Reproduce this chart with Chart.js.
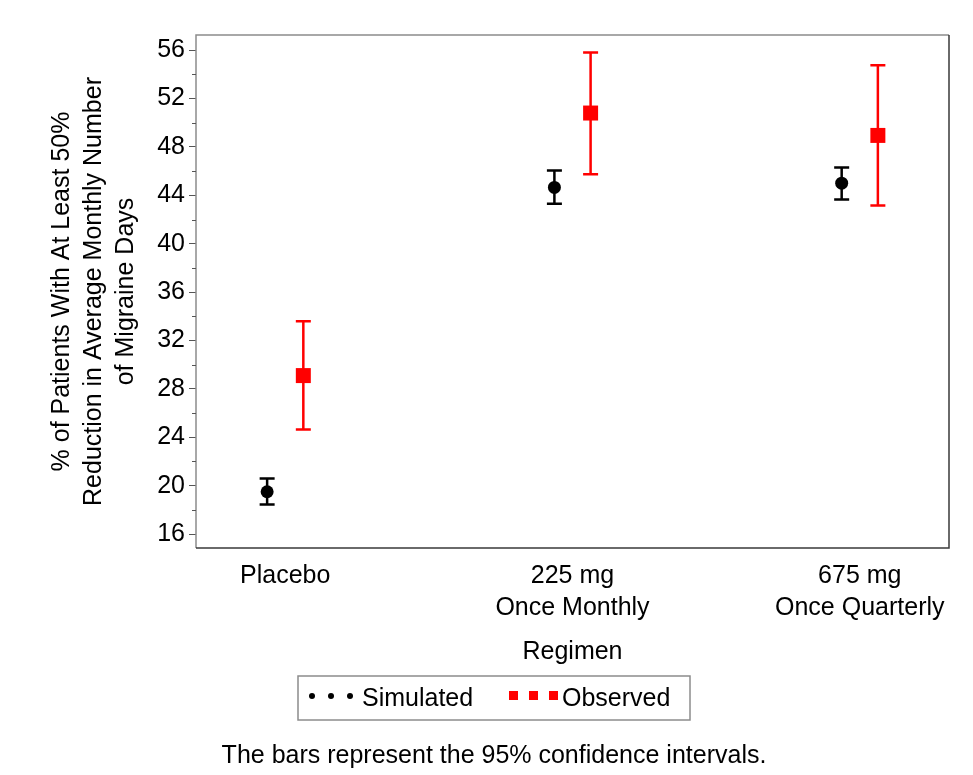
<!DOCTYPE html>
<html>
<head>
<meta charset="utf-8">
<script src="https://cdn.jsdelivr.net/npm/chart.js@4/dist/chart.umd.min.js"></script>
<style>
  html, body { margin: 0; padding: 0; background: #fff; }
  #wrap { position: relative; width: 973px; height: 775px; }
</style>
</head>
<body>
<div id="wrap"><canvas id="regimenChart" width="973" height="775"></canvas></div>
<script>
// categories and values
const categories = ["Placebo", ["225 mg", "Once Monthly"], ["675 mg", "Once Quarterly"]];
const seriesNames = ["Simulated", "Observed"];
const simulated = [19.5, 44.65, 45.0];
const simulatedLow = [18.45, 43.3, 43.65];
const simulatedHigh = [20.6, 46.05, 46.3];
const observed = [29.1, 50.8, 48.95];
const observedLow = [24.65, 45.75, 43.15];
const observedHigh = [33.6, 55.8, 54.75];
const yTicks = [16, 20, 24, 28, 32, 36, 40, 44, 48, 52, 56];
const footnote = "The bars represent the 95% confidence intervals.";

const FONT = "'Liberation Sans', Arial, sans-serif";
const dodge = 0.063; // side-by-side shift within a category

const toPoints = (vals, lo, hi, shift) =>
  vals.map((v, i) => ({ x: i + 1 + shift, y: v, lo: lo[i], hi: hi[i] }));

// error bars (drawn under the markers)
const errorBars = {
  id: "errorBars",
  beforeDatasetsDraw(chart) {
    const { ctx, scales: { x, y } } = chart;
    chart.data.datasets.forEach((ds) => {
      ctx.save();
      ctx.strokeStyle = ds.borderColor;
      ctx.lineWidth = 2.5;
      ds.data.forEach((p) => {
        const px = x.getPixelForValue(p.x);
        const top = y.getPixelForValue(p.hi);
        const bot = y.getPixelForValue(p.lo);
        ctx.beginPath();
        ctx.moveTo(px, top); ctx.lineTo(px, bot);
        ctx.moveTo(px - 7.5, top); ctx.lineTo(px + 7.5, top);
        ctx.moveTo(px - 7.5, bot); ctx.lineTo(px + 7.5, bot);
        ctx.stroke();
      });
      ctx.restore();
    });
  }
};

// frame, minor ticks, legend box and footnote
const extras = {
  id: "extras",
  afterDraw(chart) {
    const { ctx, chartArea: a, scales: { y } } = chart;
    ctx.save();
    ctx.lineWidth = 1.5;
    ctx.strokeStyle = "#8c8c8c";
    ctx.beginPath();
    ctx.moveTo(a.left, a.bottom); ctx.lineTo(a.left, a.top); ctx.lineTo(a.right, a.top);
    ctx.stroke();
    ctx.strokeStyle = "#3a3a3a";
    ctx.beginPath();
    ctx.moveTo(a.right, a.top); ctx.lineTo(a.right, a.bottom); ctx.lineTo(a.left, a.bottom);
    ctx.stroke();

    // minor ticks between the labelled ones
    ctx.strokeStyle = "#555";
    ctx.lineWidth = 1;
    for (let i = 0; i < yTicks.length - 1; i++) {
      const py = Math.round(y.getPixelForValue((yTicks[i] + yTicks[i + 1]) / 2)) + 0.5;
      ctx.beginPath();
      ctx.moveTo(a.left - 4, py); ctx.lineTo(a.left, py);
      ctx.stroke();
    }

    // legend
    const lx = 298, ly = 676, lw = 392, lh = 44;
    ctx.strokeStyle = "#8c8c8c";
    ctx.lineWidth = 1.5;
    ctx.strokeRect(lx, ly, lw, lh);
    const cy = ly + lh / 2;
    ctx.fillStyle = "#000";
    [312, 331, 350].forEach((dx) => {
      ctx.beginPath(); ctx.arc(dx, cy - 2, 3, 0, Math.PI * 2); ctx.fill();
    });
    ctx.fillStyle = "#ff0000";
    [509, 529, 549].forEach((dx) => ctx.fillRect(dx, cy - 7, 9, 9));
    ctx.fillStyle = "#000";
    ctx.font = "25px " + FONT;
    ctx.textBaseline = "middle";
    ctx.textAlign = "left";
    ctx.fillText(seriesNames[0], 362, cy + 1);
    ctx.fillText(seriesNames[1], 562, cy + 1);

    ctx.textAlign = "center";
    ctx.fillText(footnote, 494, 756);
    ctx.restore();
  }
};

new Chart(document.getElementById("regimenChart"), {
  type: "scatter",
  data: {
    datasets: [
      {
        label: seriesNames[0],
        data: toPoints(simulated, simulatedLow, simulatedHigh, -dodge),
        pointStyle: "circle",
        pointRadius: 6.5,
        backgroundColor: "#000",
        borderColor: "#000",
        borderWidth: 0,
      },
      {
        label: seriesNames[1],
        data: toPoints(observed, observedLow, observedHigh, dodge),
        pointStyle: "rect",
        pointRadius: 10.6,
        backgroundColor: "#ff0000",
        borderColor: "#ff0000",
        borderWidth: 0,
      },
    ],
  },
  options: {
    responsive: false,
    animation: false,
    layout: { padding: { left: 0, right: 24, top: 35, bottom: 107 } },
    plugins: { legend: { display: false }, tooltip: { enabled: false } },
    scales: {
      x: {
        type: "linear",
        min: 0.6894,
        max: 3.3106,
        afterBuildTicks: (s) => { s.ticks = categories.map((c, i) => ({ value: i + 1 })); },
        ticks: {
          autoSkip: false,
          maxRotation: 0,
          padding: 12,
          color: "#000",
          font: { family: FONT, size: 25, lineHeight: 1.28 },
          callback: (v) => categories[v - 1],
        },
        grid: { display: false, drawTicks: false },
        border: { display: false },
        title: {
          display: true,
          text: "Regimen",
          color: "#000",
          font: { family: FONT, size: 25, lineHeight: 1.28 },
          padding: { top: 0, bottom: 0 },
        },
      },
      y: {
        min: 14.85,
        max: 57.25,
        afterBuildTicks: (s) => { s.ticks = yTicks.map((v) => ({ value: v })); },
        afterFit: (s) => { s.width = 196; },
        ticks: {
          autoSkip: false,
          padding: 4,
          color: "#000",
          font: { family: FONT, size: 25 },
        },
        grid: { drawOnChartArea: false, drawTicks: true, tickLength: 7, tickColor: "#555" },
        border: { display: false },
        title: {
          display: true,
          text: [
            "% of Patients With At Least 50%",
            "Reduction in Average Monthly Number",
            "of Migraine Days",
          ],
          color: "#000",
          font: { family: FONT, size: 25, lineHeight: 1.28 },
          padding: { top: 46, bottom: 0 },
        },
      },
    },
  },
  plugins: [errorBars, extras],
});
</script>
</body>
</html>
